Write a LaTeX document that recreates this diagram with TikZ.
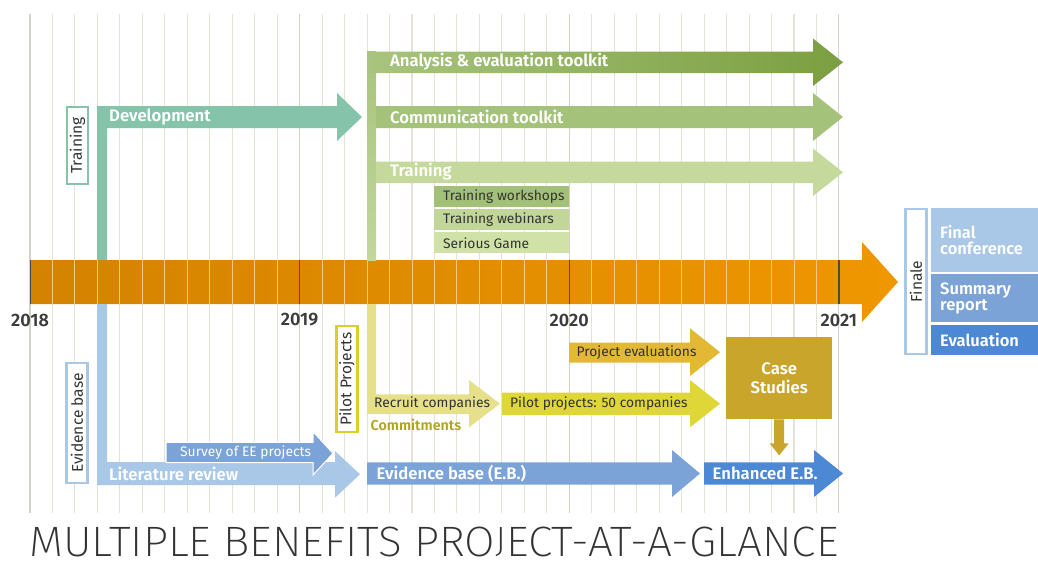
\documentclass[tikz,border=0pt]{standalone}
\usepackage{fontspec}
\IfFontExistsTF{Fira Sans SemiBold}
  {\setmainfont{Fira Sans}[BoldFont={Fira Sans SemiBold}]}
  {\setmainfont{Fira Sans}}
\IfFontExistsTF{Fira Sans ExtraLight}
  {\newfontfamily\titlefont{Fira Sans ExtraLight}}
  {\IfFontExistsTF{Fira Sans Light}
    {\newfontfamily\titlefont{Fira Sans Light}}
    {\newfontfamily\titlefont{Fira Sans}}}
\usetikzlibrary{calc}

% palette
\definecolor{gridgray}{HTML}{E4E2DA}
\definecolor{gridyear}{HTML}{D3D1C8}
\definecolor{orgL}{HTML}{D48300}
\definecolor{orgR}{HTML}{EF9700}
\definecolor{sepline}{HTML}{F6C986}
\definecolor{yearline}{HTML}{4A4A4A}
\definecolor{yeartxt}{HTML}{3C3C3C}
\definecolor{txtdark}{HTML}{333333}
\definecolor{devteal}{HTML}{85C4AA}
\definecolor{grA}{HTML}{A8C47E}
\definecolor{grAR}{HTML}{7B9F40}
\definecolor{grStem}{HTML}{C2D799}
\definecolor{grC}{HTML}{A4C27A}
\definecolor{grT}{HTML}{C4D99B}
\definecolor{grWs}{HTML}{A3C079}
\definecolor{grWb}{HTML}{C1D698}
\definecolor{grSg}{HTML}{D0E2A8}
\definecolor{blueL}{HTML}{A9C8E7}
\definecolor{blueM}{HTML}{7BA3D7}
\definecolor{blueD}{HTML}{4D88D5}
\definecolor{yelL}{HTML}{E6E08B}
\definecolor{yelP}{HTML}{DFD637}
\definecolor{yelE}{HTML}{E2B834}
\definecolor{caseC}{HTML}{C9A52C}
\definecolor{commitC}{HTML}{B1A51F}
\definecolor{pilotC}{HTML}{D9D02A}

% a fixed-width, left-aligned line for the sub-activity bars
\newcommand{\subline}[1]{\makebox[126pt][l]{\hspace{4.5pt}#1}}
% a capital J that stands on the baseline, like the other capitals
\newcommand{\baseJ}{\raisebox{\depth}{\resizebox*{!}{\fontcharht\font`J}{J}}}

\begin{document}
\begin{tikzpicture}[x=1pt,y=-1pt,
  lbl/.style={inner sep=0pt, anchor=west, text=txtdark, font=\fontsize{13.8}{16}\selectfont},
  wlbl/.style={inner sep=0pt, anchor=west, text=white, font=\bfseries\fontsize{16.7}{18}\selectfont},
  wreg/.style={inner sep=0pt, anchor=west, text=white, font=\fontsize{13.8}{16}\selectfont},
  vlbl/.style={draw, line width=2.4pt, fill=white, rotate=90, inner sep=0pt,
    minimum height=21pt, text=txtdark, font=\fontsize{15.5}{17}\selectfont},
  subbox/.style={anchor=north west, inner xsep=4.5pt, inner ysep=0pt, minimum width=135pt,
    minimum height=21pt, text=txtdark, font=\fontsize{13.8}{16}\selectfont},
  finbox/.style={anchor=north west, inner xsep=9pt, inner ysep=0pt, minimum width=107pt,
    text width=89pt, align=left, text=white, font=\bfseries\fontsize{16.5}{16}\selectfont},
  yr/.style={inner sep=0pt, text=yeartxt, font=\bfseries\fontsize{18}{20}\selectfont},
  gridline/.style={draw=gridgray, line width=1.1pt},
]
\useasboundingbox (0,0) rectangle (1038,560);

% month grid
\foreach \k in {0,...,36}{
  \draw[gridline] ({30+22.47*\k},14) -- ({30+22.47*\k},513);
}
\foreach \k in {0,12,24,36}{
  \draw[draw=gridyear, line width=1.1pt] ({30+22.47*\k},14) -- ({30+22.47*\k},513);
}

% main time arrow
\shade[left color=orgL, right color=orgR]
  (30,260) -- (862,260) -- (862,242) -- (898,282) -- (862,322) -- (862,304) -- (30,304) -- cycle;
\foreach \k in {1,...,35}{
  \draw[draw=sepline, line width=0.9pt] ({30+22.47*\k},260) -- ({30+22.47*\k},304);
}
\foreach \k in {12,24,36}{
  \draw[draw=yearline, line width=1.3pt] ({30+22.47*\k},260) -- ({30+22.47*\k},304);
}
\draw[draw=yearline, line width=1.3pt] (30.7,260) -- (30.7,304);

\node[yr] (y2018) at (30,320) {2018};
\node[yr] (y2019) at ({30+22.47*12},320) {2019};
\node[yr] (y2020) at ({30+22.47*24},320) {2020};
\node[yr] (y2021) at ({30+22.47*36},320) {2021};

% ---- training strand (upper) ----
\node[vlbl, draw=devteal, minimum width=76.6pt] (trainbox) at (77.5,145.5) {Training};
\fill[devteal] (97,260) -- (97,106) -- (337,106) -- (337,93) -- (362,117)
  -- (337,141) -- (337,128) -- (107,128) -- (107,260) -- cycle;
\node[wlbl] (dev) at (109,117) {Development};

\shade[top color=grA, bottom color=grStem] (367,51.5) rectangle (376,260);
\shade[left color=grA, right color=grAR]
  (367,51.5) -- (813,51.5) -- (813,38.5) -- (843,62.3) -- (813,86) -- (813,73) -- (367,73) -- cycle;
\fill[grC] (376,106) -- (813,106) -- (813,93) -- (843,117) -- (813,141) -- (813,128) -- (376,128) -- cycle;
\fill[grT] (376,161.5) -- (813,161.5) -- (813,148.5) -- (843,172.3) -- (813,196) -- (813,183) -- (376,183) -- cycle;
\node[wlbl] (anl) at (390,62) {Analysis \& evaluation toolkit};
\node[wlbl] (com) at (390,117) {Communication toolkit};
\node[wlbl] (trn) at (390,172) {Training};

\node[subbox, fill=grWs] (tws) at (434,186) {\subline{Training workshops}};
\node[subbox, fill=grWb] (twb) at (434,209) {\subline{Training webinars}};
\node[subbox, fill=grSg] (tsg) at (434,232) {\subline{Serious Game}};

% ---- evidence strand (lower) ----
\node[vlbl, draw=blueL, minimum width=119.6pt] (evbox) at (77,423) {Evidence base};
\fill[blueL] (97,304) -- (107,304) -- (107,462) -- (335,462) -- (335,451) -- (360,474.3)
  -- (335,497.7) -- (335,485) -- (97,485) -- cycle;
\node[wlbl] (lit) at (109,473.5) {Literature review};
\filldraw[fill=blueM, draw=white, line width=1pt]
  (166,442.3) -- (313,442.3) -- (313,431.7) -- (333,453.3) -- (313,475) -- (313,462.5) -- (166,462.5) -- cycle;
\node[wreg] (srv) at (180,452.5) {Survey of EE projects};

\fill[blueM] (367,462.3) -- (672,462.3) -- (672,450) -- (700,473.5) -- (672,497) -- (672,484.5) -- (367,484.5) -- cycle;
\node[wlbl] (eb) at (376.5,473.5) {Evidence base (E.B.)};
\fill[blueD] (704,462.3) -- (814,462.3) -- (814,450) -- (843,473.5) -- (814,497) -- (814,484.5) -- (704,484.5) -- cycle;
\node[wlbl] (eeb) at (712.5,473.5) {Enhanced E.B.};

% ---- pilot strand ----
\node[vlbl, draw=pilotC, minimum width=105.6pt] (pilotbox) at (347,379) {Pilot Projects};
\fill[yelL] (367,304) -- (376,304) -- (376,394.3) -- (469,394.3) -- (469,380) -- (500,403.7)
  -- (469,427.3) -- (469,414) -- (367,414) -- cycle;
\node[lbl] (rec) at (374,404) {Recruit companies};
\node[inner sep=0pt, anchor=west, text=commitC, font=\bfseries\fontsize{14.3}{16}\selectfont]
  (cmt) at (370.5,425) {Commitments};
\fill[yelP] (502,392.7) -- (690,392.7) -- (690,380) -- (720,403.7) -- (690,427.3) -- (690,415) -- (502,415) -- cycle;
\node[lbl] (pil) at (510,403.5) {Pilot projects: 50 companies};
\fill[yelE] (569,342.7) -- (690,342.7) -- (690,328.3) -- (720,352.2) -- (690,376) -- (690,362.7) -- (569,362.7) -- cycle;
\node[lbl] (pev) at (576.5,352.5) {Project evaluations};

\node[fill=caseC, anchor=north west, minimum width=106pt, minimum height=82pt, inner sep=0pt,
  align=center, text=white, font=\bfseries\fontsize{16.7}{18.5}\selectfont] (case) at (726,337) {Case\\Studies};
\fill[caseC] ($(case.south)+(-5,0)$) -- ++(0,24) -- ++(-4.5,0) -- ++(9.5,12) -- ++(9.5,-12)
  -- ++(-4.5,0) -- ++(0,-24) -- cycle;

% ---- finale ----
\node[vlbl, draw=blueL, minimum width=144.6pt] (finale) at (916,281.5) {Finale};
\node[finbox, fill=blueL, minimum height=64pt] (fconf) at (931,208) {Final\\conference};
\node[finbox, fill=blueM, minimum height=48pt] (fsum) at (931,274) {Summary\\report};
\node[finbox, fill=blueD, minimum height=30pt] (feval) at (931,325) {Evaluation};

% title
\node[inner sep=0pt, anchor=base west, text=txtdark] (title) at (29,556.5)
  {\resizebox{809pt}{29.5pt}{\titlefont MULTIPLE BENEFITS PRO\baseJ ECT-AT-A-GLANCE}};
\end{tikzpicture}
\end{document}
